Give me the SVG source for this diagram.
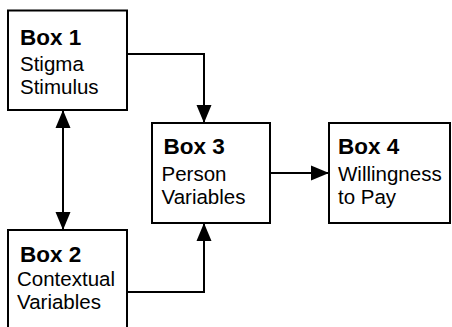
<svg xmlns="http://www.w3.org/2000/svg" width="452" height="327" viewBox="0 0 452 327">
  <defs>
    <marker id="arrow" viewBox="0 0 18 16" refX="18" refY="8" markerWidth="18" markerHeight="16" markerUnits="userSpaceOnUse" orient="auto-start-reverse">
      <path d="M0,0.5 L18,8 L0,15.5 Z" fill="#000"/>
    </marker>
  </defs>
  <style>
    .box { fill: #fff; stroke: #000; stroke-width: 2; }
    .title { font-family: "Liberation Sans", Arial, sans-serif; font-weight: bold; font-size: 22.5px; fill: #000; }
    .body { font-family: "Liberation Sans", Arial, sans-serif; font-size: 20.5px; fill: #000; }
    .link { fill: none; stroke: #000; stroke-width: 2; }
  </style>
  <rect width="452" height="327" fill="#fff"/>

  <g id="connectors">
    <path class="link" d="M127,54 H204 V123" marker-end="url(#arrow)"/>
    <path class="link" d="M63,110 V230" marker-start="url(#arrow)" marker-end="url(#arrow)"/>
    <path class="link" d="M127,292 H204 V223" marker-end="url(#arrow)"/>
    <path class="link" d="M270,173 H329" marker-end="url(#arrow)"/>
  </g>

  <g id="box1">
    <rect class="box" x="8" y="10.5" width="119" height="99.5"/>
    <text class="title" x="20" y="45">Box 1</text>
    <text class="body" x="20" y="70.5">Stigma</text>
    <text class="body" x="20" y="93.5">Stimulus</text>
  </g>

  <g id="box2">
    <rect class="box" x="8" y="230" width="119" height="110"/>
    <text class="title" x="20" y="262">Box 2</text>
    <text class="body" x="17" y="286">Contextual</text>
    <text class="body" x="17" y="308.5">Variables</text>
  </g>

  <g id="box3">
    <rect class="box" x="152" y="123" width="118" height="100"/>
    <text class="title" x="163.5" y="154">Box 3</text>
    <text class="body" x="161.5" y="180.5">Person</text>
    <text class="body" x="161.5" y="203.5">Variables</text>
  </g>

  <g id="box4">
    <rect class="box" x="329" y="123" width="121" height="100"/>
    <text class="title" x="338" y="154">Box 4</text>
    <text class="body" x="338" y="180.5">Willingness</text>
    <text class="body" x="338" y="203.5">to Pay</text>
  </g>
</svg>
